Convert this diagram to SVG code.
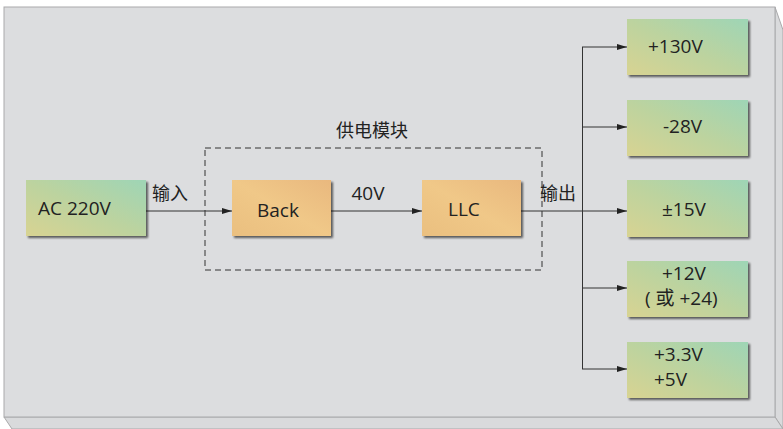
<svg xmlns="http://www.w3.org/2000/svg" width="783" height="429" viewBox="0 0 783 429">
  <style>
    .frame { fill: #dcdddf; stroke: #a9a9ab; stroke-width: 1; }
    .side { fill: #d9dadc; stroke: #a9a9ab; stroke-width: 1; }
    .green { fill: url(#gGreen); filter: url(#shadow); }
    .orange { fill: url(#gOrange); filter: url(#shadow); }
    .label { font-family: "Open Sans", "Noto Sans", "Noto Sans CJK SC", sans-serif; font-size: 19px; fill: #222; }
    .cjk { font-family: "Noto Sans CJK SC", "Noto Sans", sans-serif; font-size: 18px; fill: #222; }
    .wire { fill: none; stroke: #333; stroke-width: 1; }
    .dash { fill: none; stroke: #333; stroke-width: 1; stroke-dasharray: 6 4; }
  </style>
  <defs>
    <linearGradient id="gGreen" x1="0" y1="1" x2="1" y2="0">
      <stop offset="0" stop-color="#d8d392"/>
      <stop offset="0.5" stop-color="#bcd39f"/>
      <stop offset="1" stop-color="#9ed5b6"/>
    </linearGradient>
    <linearGradient id="gOrange" x1="0" y1="1" x2="1" y2="0">
      <stop offset="0" stop-color="#eabf7f"/>
      <stop offset="0.5" stop-color="#f0c888"/>
      <stop offset="1" stop-color="#e9b87e"/>
    </linearGradient>
    <filter id="shadow" x="-10%" y="-10%" width="125%" height="130%">
      <feGaussianBlur in="SourceAlpha" stdDeviation="1"/>
      <feOffset dx="1.5" dy="2" result="b"/>
      <feComponentTransfer><feFuncA type="linear" slope="0.6"/></feComponentTransfer>
      <feMerge><feMergeNode/><feMergeNode in="SourceGraphic"/></feMerge>
    </filter>
    <marker id="arrow" viewBox="0 0 10 6" refX="10" refY="3" markerWidth="10" markerHeight="6" markerUnits="userSpaceOnUse" orient="auto">
      <path d="M0,0 L10,3 L0,6 Z" fill="#222"/>
    </marker>
  </defs>

  <rect width="783" height="429" fill="#ffffff"/>
  <!-- bevelled panel -->
  <polygon class="side" points="775,7 783,30 783,429 775,417"/>
  <polygon class="side" points="4,417 775,417 783,429 12,429"/>
  <rect class="frame" x="4" y="7" width="771" height="410"/>

  <!-- power module boundary -->
  <g id="module">
    <rect class="dash" x="205" y="148" width="337" height="122"/>
    <text class="cjk" x="372" y="137" text-anchor="middle">供电模块</text>
  </g>

  <g id="connectors">
    <line class="wire" x1="146" y1="211" x2="232" y2="211" marker-end="url(#arrow)"/>
    <line class="wire" x1="331" y1="211" x2="422" y2="211" marker-end="url(#arrow)"/>
    <line class="wire" x1="521" y1="211" x2="627" y2="211" marker-end="url(#arrow)"/>
    <line class="wire" x1="582.5" y1="47" x2="582.5" y2="369"/>
    <line class="wire" x1="582" y1="47" x2="627" y2="47" marker-end="url(#arrow)"/>
    <line class="wire" x1="582" y1="127" x2="627" y2="127" marker-end="url(#arrow)"/>
    <line class="wire" x1="582" y1="288" x2="627" y2="288" marker-end="url(#arrow)"/>
    <line class="wire" x1="582" y1="369" x2="627" y2="369" marker-end="url(#arrow)"/>
    <text class="cjk" x="152" y="200">输入</text>
    <text class="label" x="368" y="200" text-anchor="middle">40V</text>
    <text class="cjk" x="540" y="200">输出</text>
  </g>

  <g id="ac220">
    <rect class="green" x="26" y="180" width="120" height="56"/>
    <text class="label" x="38" y="215">AC 220V</text>
  </g>
  <g id="back">
    <rect class="orange" x="232" y="180" width="99" height="56"/>
    <text class="label" x="257" y="217">Back</text>
  </g>
  <g id="llc">
    <rect class="orange" x="422" y="180" width="99" height="56"/>
    <text class="label" x="448" y="216">LLC</text>
  </g>

  <g id="v130">
    <rect class="green" x="627" y="19" width="121" height="56"/>
    <text class="label" x="648" y="53">+130V</text>
  </g>
  <g id="v28">
    <rect class="green" x="627" y="100" width="121" height="56"/>
    <text class="label" x="663" y="133">-28V</text>
  </g>
  <g id="v15">
    <rect class="green" x="627" y="180" width="121" height="57"/>
    <text class="label" x="662" y="216">±15V</text>
  </g>
  <g id="v12">
    <rect class="green" x="627" y="261" width="121" height="56"/>
    <text class="label" x="662" y="280">+12V</text>
    <text class="label" x="645" y="305">( 或 +24)</text>
  </g>
  <g id="v33">
    <rect class="green" x="627" y="342" width="121" height="56"/>
    <text class="label" x="654" y="361">+3.3V</text>
    <text class="label" x="654" y="386">+5V</text>
  </g>
</svg>
